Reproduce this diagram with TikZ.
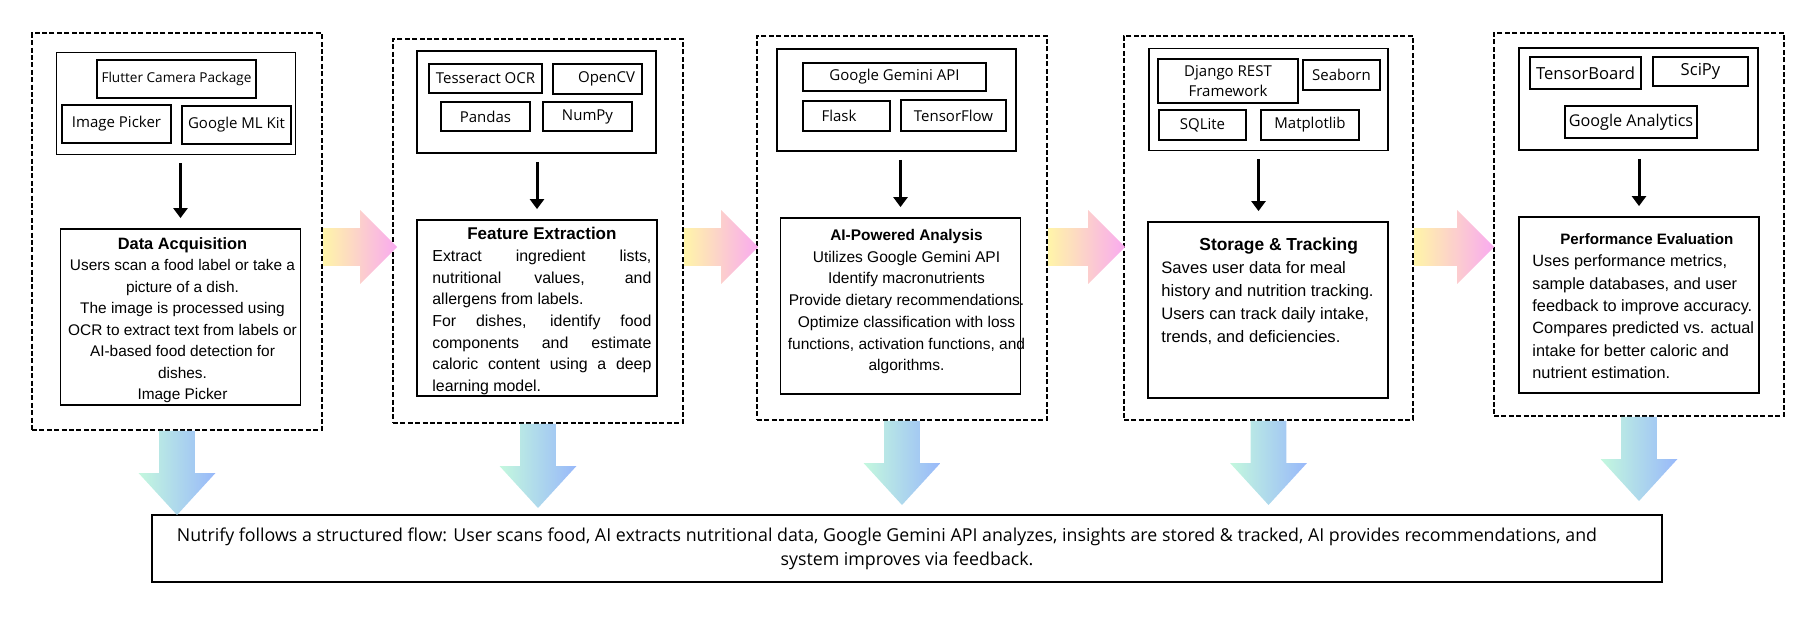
\documentclass[tikz,border=0pt]{standalone}
\usepackage{fontspec}
\setmainfont{Liberation Sans}
\newfontfamily\toolfont{Open Sans}
\usetikzlibrary{arrows.meta,shapes.arrows}

\definecolor{shaftyellow}{RGB}{255,245,168}
\definecolor{tippink}{RGB}{249,170,240}
\definecolor{shaftmint}{RGB}{196,248,222}
\definecolor{tipblue}{RGB}{152,184,250}

%justified line of the feature text
\newcommand{\jline}[1]{\makebox[109.5pt][s]{#1}}

\tikzset{
  panel/.style={draw,line width=0.6pt,dash pattern=on 2.5pt off 1.2pt,minimum width=145pt,inner sep=0pt},
  stack/.style={draw,line width=0.9pt,minimum width=119.5pt,minimum height=51pt,inner sep=0pt},
  tool/.style={draw,line width=0.9pt,inner sep=0pt,font=\toolfont\fontsize{7.5}{10}\selectfont},
  descbox/.style={draw,line width=0.9pt,minimum width=120pt,minimum height=88pt,inner sep=0pt},
  desc/.style={inner sep=0pt},
  flow/.style={line width=1.5pt,-{Triangle[width=7pt,length=5pt]},shorten <=4pt,shorten >=5pt},
  fatright/.style={single arrow,single arrow tip angle=90,single arrow head extend=9pt,
    inner sep=9.25pt,left color=shaftyellow,right color=tippink,anchor=tail},
  fatdown/.style={single arrow,shape border rotate=270,single arrow tip angle=85,single arrow head extend=10.25pt,
    minimum height=42pt,inner sep=8.75pt,left color=shaftmint,right color=tipblue,anchor=tail}
}

\begin{document}
\begin{tikzpicture}[x=0.5pt,y=-0.5pt]
  \useasboundingbox (0,0) rectangle (1818,619);

  %panels
  \node[panel,minimum height=198.5pt] (p1) at (177,231.5) {};
  \node[panel,minimum height=192pt] (p2) at (538,231) {};
  \node[panel,minimum height=192pt] (p3) at (902,228) {};
  \node[panel,minimum height=192pt,minimum width=144.5pt] (p4) at (1268.5,228) {};
  \node[panel,minimum height=191.5pt] (p5) at (1639,224.5) {};

  %first panel
  \node[stack] (s1) at (176,103.5) {};
  \node[tool,minimum width=79.5pt,minimum height=19pt,font=\toolfont\fontsize{6.8}{8}\selectfont] (camera) at (176.5,79) {Flutter Camera Package};
  \node[tool,minimum width=54.5pt,minimum height=19pt] (picker) at (116.5,124) {Image Picker};
  \node[tool,minimum width=54.5pt,minimum height=19pt] (mlkit) at (236.5,125) {Google ML Kit};
  \node[descbox] (d1) at (180.5,317) {};
  \node[desc,anchor=north,align=center,font=\fontsize{7.7}{10.75}\selectfont] (acqtext) at (182.5,237)
    {{\bfseries\fontsize{8.2}{10.75}\selectfont Data Acquisition}\\
     Users scan a food label or take a\\
     picture of a dish.\\
     The image is processed using\\
     OCR to extract text from labels or\\
     AI-based food detection for\\
     dishes.\\
     Image Picker};

  %second panel
  \node[stack] (s2) at (536.5,102) {};
  \node[tool,minimum width=56.5pt,minimum height=14.5pt] (ocr) at (485.5,78.5) {Tesseract OCR};
  \node[tool,minimum width=44.5pt,minimum height=15pt] (opencv) at (597.5,79) {\hspace*{9pt}OpenCV};
  \node[tool,minimum width=44.5pt,minimum height=14.5pt] (pandas) at (485.5,116.5) {Pandas};
  \node[tool,minimum width=44.5pt,minimum height=14.5pt] (numpy) at (587.5,116.5) {NumPy};
  \node[descbox] (d2) at (537,308) {};
  \node[desc,anchor=north west,align=left,font=\fontsize{7.95}{10.85}\selectfont] (feattext) at (432,227)
    {\makebox[109.5pt]{\bfseries\fontsize{8.5}{10.85}\selectfont Feature Extraction}\\
     \jline{Extract ingredient lists,}\\
     \jline{nutritional values, and}\\
     allergens from labels.\\
     \jline{For dishes, identify food}\\
     \jline{components and estimate}\\
     \jline{caloric content using a deep}\\
     learning model.};

  %third panel
  \node[stack] (s3) at (896.5,100) {};
  \node[tool,minimum width=91.5pt,minimum height=14pt] (gemini) at (894.5,77) {Google Gemini API};
  \node[tool,minimum width=43.5pt,minimum height=15pt] (flask) at (846.5,116) {Flask\hspace*{7.5pt}};
  \node[tool,minimum width=52.5pt,minimum height=15.5pt] (tensorflow) at (953.5,115.5) {TensorFlow};
  \node[descbox] (d3) at (900.5,306) {};
  \node[desc,anchor=north,align=center,font=\fontsize{7.76}{10.85}\selectfont] (aitext) at (906.5,229)
    {{\bfseries\fontsize{7.7}{10.85}\selectfont AI-Powered Analysis}\\
     Utilizes Google Gemini API\\
     Identify macronutrients\\
     Provide dietary recommendations.\\
     Optimize classification with loss\\
     functions, activation functions, and\\
     algorithms.};

  %fourth panel
  \node[stack] (s4) at (1268.5,99.5) {};
  \node[tool,minimum width=70pt,minimum height=22pt,align=center] (django) at (1228,81) {Django REST\\Framework};
  \node[tool,minimum width=38.5pt,minimum height=15pt] (seaborn) at (1341.5,75) {Seaborn};
  \node[tool,minimum width=43.5pt,minimum height=15pt] (sqlite) at (1202.5,125) {SQLite};
  \node[tool,minimum width=49pt,minimum height=15pt] (matplotlib) at (1310,125) {Matplotlib};
  \node[descbox] (d4) at (1268,310) {};
  \node[desc,anchor=north west,align=left,font=\fontsize{8.3}{11.5}\selectfont] (storetext) at (1161,237)
    {\hspace*{19pt}{\bfseries\fontsize{8.7}{11.5}\selectfont Storage \& Tracking}\\
     Saves user data for meal\\
     history and nutrition tracking.\\
     Users can track daily intake,\\
     trends, and deficiencies.};

  %fifth panel
  \node[stack] (s5) at (1638.5,99) {};
  \node[tool,minimum width=55.5pt,minimum height=16pt,font=\toolfont\fontsize{8.3}{10}\selectfont] (tensorboard) at (1585.5,73) {TensorBoard};
  \node[tool,minimum width=47.5pt,minimum height=14.5pt,font=\toolfont\fontsize{8.3}{10}\selectfont] (scipy) at (1700.5,71.5) {SciPy};
  \node[tool,minimum width=66pt,minimum height=16pt,font=\toolfont\fontsize{8.1}{10}\selectfont] (analytics) at (1631,122) {Google Analytics};
  \node[descbox] (d5) at (1639,305) {};
  \node[desc,anchor=north west,align=left,font=\fontsize{8.15}{11.2}\selectfont] (evaltext) at (1532,233)
    {\hspace*{14pt}{\bfseries\fontsize{7.55}{11.2}\selectfont Performance Evaluation}\\
     Uses performance metrics,\\
     sample databases, and user\\
     feedback to improve accuracy.\\
     Compares predicted vs. actual\\
     intake for better caloric and\\
     nutrient estimation.};

  %inner arrows
  \draw[flow] (s1.south -| d1.north) -- (d1.north);
  \draw[flow] (s2.south -| d2.north) -- (d2.north);
  \draw[flow] (s3.south -| d3.north) -- (d3.north);
  \draw[flow] ([xshift=-5pt]s4.south) -- ([xshift=-5pt]s4.south |- d4.north);
  \draw[flow] (s5.south -| d5.north) -- (d5.north);

  %summary
  \node[draw,line width=1pt,minimum width=755pt,minimum height=33.5pt,align=center,
    font=\toolfont\fontsize{8.9}{12}\selectfont] (summary) at (907,548.5)
    {Nutrify follows a structured flow: User scans food, AI extracts nutritional data, Google Gemini API analyzes, insights are stored \& tracked, AI provides recommendations, and\hspace*{20pt}\\
     system improves via feedback.};

  %arrows between panels
  \coordinate (mid) at (0,247);
  \node[fatright,minimum height=37pt] (r1) at (p1.east |- mid) {};
  \node[fatright,minimum height=37pt] (r2) at (p2.east |- mid) {};
  \node[fatright,minimum height=38.5pt] (r3) at (p3.east |- mid) {};
  \node[fatright,minimum height=40pt] (r4) at (p4.east |- mid) {};

  %arrows to summary
  \node[fatdown] (v1) at (p1.south) {};
  \node[fatdown] (v2) at (p2.south) {};
  \node[fatdown] (v3) at (p3.south) {};
  \node[fatdown] (v4) at (p4.south) {};
  \node[fatdown] (v5) at (p5.south) {};

\end{tikzpicture}
\end{document}
